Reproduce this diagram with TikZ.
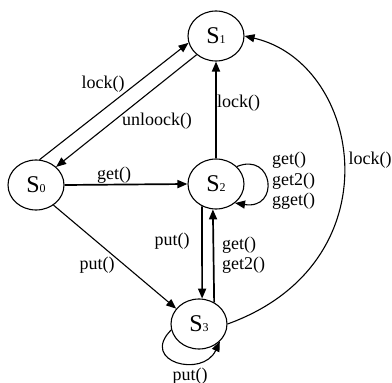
\documentclass[tikz,border=0pt]{standalone}
\usepackage{fontspec}
\setmainfont{Liberation Serif}
\usetikzlibrary{arrows.meta,shapes.geometric}
\tikzset{
  state/.style={draw, ellipse, line width=1.1pt, minimum width=56pt, minimum height=50pt, inner sep=0pt},
  lbl/.style={font=\fontsize{18}{20.5}\selectfont, inner sep=0pt},
  tr/.style={line width=1.1pt, -{Triangle[length=10pt,width=8pt]}},
  trthick/.style={line width=1.7pt, -{Triangle[length=10pt,width=8pt]}},
}
\newcommand{\stname}[1]{\fontsize{24}{24}\selectfont S\fontsize{12}{12}\selectfont #1}
\begin{document}
\begin{tikzpicture}[x=1pt,y=-1pt]
\useasboundingbox (0,0) rectangle (392,383);
% states
\node[state] (s0) at (36,185) {\stname{0}};
\node[state] (s1) at (216,36) {\stname{1}};
\node[state] (s2) at (216,184) {\stname{2}};
\node[state] (s3) at (199,324) {\stname{3}};
% transitions
\draw[tr] (s0.82) -- (s1.194);
\draw[tr] (s1.224) -- (s0.42);
\draw[trthick] (s0.east) -- (s2.west);
\draw[trthick] (s2.north) -- (s1.south);
\draw[tr] (s2.40) .. controls +(37,-15) and +(45,7) .. (s2.-45);
\draw[trthick] (s2.238) -- (s3.83);
\draw[trthick] (s3.55) -- (s2.263);
\draw[tr] (s0.311) -- (s3.146);
\draw[tr] (s3.192) .. controls +(-32,32) and +(-17,37) .. (s3.320);
\draw[tr] (s3.east) .. controls +(169,-61) and +(118,27) .. (s1.east);
% labels
\node[lbl] (l01) at (103,84) {lock()};
\node[lbl] (l10) at (157,121) {unloock()};
\node[lbl] (l02) at (114,175) {get()};
\node[lbl, anchor=west] (l21) at (217,103) {lock()};
\node[lbl, anchor=west, align=left] (l22) at (272,181) {get()\\get2()\\gget()};
\node[lbl] (l23) at (172,241) {put()};
\node[lbl, anchor=west, align=left] (l32) at (222,255) {get()\\get2()};
\node[lbl] (l03) at (97,265) {put()};
\node[lbl] (l33) at (190,376) {put()};
\node[lbl] (l31) at (370,160) {lock()};
\end{tikzpicture}
\end{document}
